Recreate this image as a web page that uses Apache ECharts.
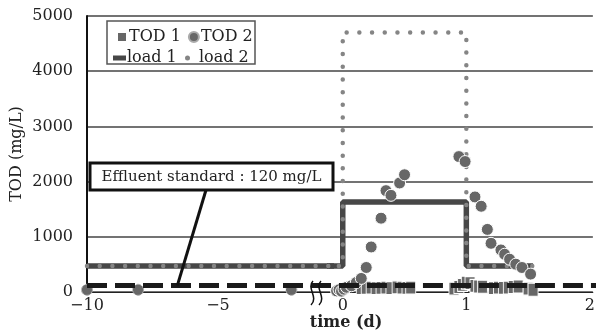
<!DOCTYPE html>
<html>
<head>
<meta charset="utf-8">
<script src="https://cdn.jsdelivr.net/npm/echarts@6/dist/echarts.min.js"></script>
<style>
  html, body { margin: 0; padding: 0; background: #fff; }
  #chart { width: 598px; height: 331px; }
</style>
</head>
<body>
<div id="chart"></div>
<script>
// Time axis is broken: a compressed pre-period (-10 .. 0 d) and a detailed run (0 .. 2 d)
const yTicks = [0, 1000, 2000, 3000, 4000, 5000];
const preTicks = [-10, -5];
const runTicks = [0, 1, 2];

// Loading profiles (step functions)
const loadT = [-10, 0, 0, 1, 1, 1.54];
const load1 = [470, 470, 1630, 1630, 470, 470];
const load2 = [470, 470, 4700, 4700, 470, 470];

// Effluent standard
const stdT = [-10, 2.1];
const stdV = [120, 120];

// TOD 1 measurements
const tod1T = [0.15, 0.19, 0.23, 0.27, 0.31, 0.35, 0.39, 0.44, 0.48, 0.52, 0.55,
               0.90, 0.94, 0.97, 1.00, 1.03, 1.07, 1.10, 1.13,
               1.22, 1.26, 1.30, 1.34, 1.38, 1.42, 1.50, 1.54];
const tod1V = [70, 75, 80, 70, 75, 80, 70, 85, 80, 75, 80,
               60, 90, 130, 170, 160, 110, 100, 95,
               70, 80, 75, 80, 90, 100, 60, 40];

// TOD 2 measurements, pre-period
const tod2PreT = [-10, -8.05, -2.2];
const tod2PreV = [40, 40, 40];
// TOD 2 measurements, run
const tod2T = [-0.05, -0.03, -0.01, 0.01, 0.03, 0.07, 0.11, 0.15, 0.19, 0.23, 0.31, 0.35, 0.39, 0.46, 0.50,
               0.94, 0.99, 1.07, 1.12, 1.17, 1.20, 1.28, 1.31, 1.35, 1.40, 1.45, 1.52];
const tod2V = [20, 40, 15, 50, 85, 113, 174, 246, 444, 816, 1337, 1836, 1751, 1975, 2124,
               2453, 2363, 1722, 1553, 1134, 882, 762, 684, 594, 504, 444, 324];

const pairs = (xs, ys) => xs.map((x, i) => [x, ys[i]]);

const FONT = 'DejaVu Serif';
const INK = '#222';
const MARK = '#676767';

const chart = echarts.init(document.getElementById('chart'), null, { renderer: 'canvas' });

const yAxisBase = {
  type: 'value', min: yTicks[0], max: yTicks[yTicks.length - 1], interval: 1000,
  axisTick: { show: false },
  splitLine: { show: true, lineStyle: { color: '#444', width: 1.5 } }
};

function loadSeries(axisIdx) {
  return [
    {
      name: 'load 1', type: 'line', xAxisIndex: axisIdx, yAxisIndex: axisIdx,
      data: pairs(loadT, load1), symbol: 'none', z: 2,
      lineStyle: { color: '#474747', width: 5.5 }, itemStyle: { color: '#474747' }
    },
    {
      name: 'load 2', type: 'line', xAxisIndex: axisIdx, yAxisIndex: axisIdx,
      data: pairs(loadT, load2), symbol: 'none', z: 3,
      lineStyle: { color: '#858585', width: 4.5, type: [0, 12.7], cap: 'round' },
      itemStyle: { color: '#858585' }
    },
    {
      name: 'standard', type: 'line', xAxisIndex: axisIdx, yAxisIndex: axisIdx,
      data: pairs(stdT, stdV), symbol: 'none', z: 6,
      lineStyle: { color: '#1a1a1a', width: 5, type: [20, 8] }
    }
  ];
}

const option = {
  animation: false,
  backgroundColor: '#fff',
  textStyle: { fontFamily: FONT },
  grid: [
    { left: 87, top: 16, width: 243, height: 276 },
    { left: 330, top: 16, width: 268, height: 276 }
  ],
  xAxis: [
    {
      type: 'value', gridIndex: 0, min: -10, max: -10 + 243 / 26.2,
      axisLine: { show: true, onZero: false, lineStyle: { color: INK, width: 1 } },
      axisTick: { show: false },
      splitLine: { show: false },
      axisLabel: {
        customValues: preTicks, color: INK, fontSize: 16, fontFamily: FONT, margin: 6,
        formatter: v => String(v).replace('-', '\u2212')
      }
    },
    {
      type: 'value', gridIndex: 1, min: -13 / 126, max: -13 / 126 + 268 / 126,
      axisLine: { show: true, onZero: false, lineStyle: { color: INK, width: 1 } },
      axisTick: { show: false },
      splitLine: { show: false },
      axisLabel: {
        customValues: runTicks, color: INK, fontSize: 16, fontFamily: FONT, margin: 6,
        showMinLabel: true, showMaxLabel: true
      }
    }
  ],
  yAxis: [
    Object.assign({}, yAxisBase, {
      gridIndex: 0,
      name: 'TOD (mg/L)', nameLocation: 'middle', nameGap: 62,
      nameTextStyle: { color: INK, fontSize: 16, fontFamily: FONT },
      axisLine: { show: true, lineStyle: { color: '#111', width: 2 } },
      axisLabel: { color: INK, fontSize: 16, fontFamily: FONT, margin: 14, formatter: v => String(v) }
    }),
    Object.assign({}, yAxisBase, {
      gridIndex: 1,
      axisLine: { show: false },
      axisLabel: { show: false }
    })
  ],
  legend: [
    {
      left: 111, top: 24, itemWidth: 10, itemHeight: 10, itemGap: 7,
      textStyle: { color: INK, fontSize: 16, fontFamily: FONT, padding: [0, 0, 0, -3] },
      data: [{ name: 'TOD 1', icon: 'rect' }, { name: 'TOD 2', icon: 'circle' }]
    },
    {
      left: 108, top: 45, itemWidth: 13, itemHeight: 5,
      textStyle: { color: INK, fontSize: 16, fontFamily: FONT, padding: [0, 0, 0, -4] },
      data: [{ name: 'load 1', icon: 'rect', itemStyle: { color: '#474747' } }]
    },
    {
      left: 180, top: 45, itemWidth: 5, itemHeight: 5,
      textStyle: { color: INK, fontSize: 16, fontFamily: FONT, padding: [0, 0, 0, 4] },
      data: [{ name: 'load 2', icon: 'circle', itemStyle: { color: '#858585' } }]
    }
  ],
  series: [
    ...loadSeries(0),
    ...loadSeries(1),
    {
      name: 'TOD 1', type: 'scatter', xAxisIndex: 1, yAxisIndex: 1,
      data: pairs(tod1T, tod1V), symbol: 'rect', symbolSize: [10, 13], z: 4,
      itemStyle: { color: MARK, borderColor: '#fff', borderWidth: 1, opacity: 1 }
    },
    {
      name: 'TOD 2', type: 'scatter', xAxisIndex: 0, yAxisIndex: 0,
      data: pairs(tod2PreT, tod2PreV), symbol: 'circle', symbolSize: 11, z: 5,
      itemStyle: { color: MARK, borderColor: '#aaa', borderWidth: 1, borderType: 'dashed', opacity: 1 }
    },
    {
      name: 'TOD 2', type: 'scatter', xAxisIndex: 1, yAxisIndex: 1,
      data: pairs(tod2T, tod2V), symbol: 'circle', symbolSize: 12, z: 5,
      itemStyle: { color: MARK, borderColor: '#fff', borderWidth: 1, opacity: 1 }
    }
  ]
};

chart.setOption(option);

// Annotations: legend frame, effluent-standard callout, axis break, x-axis title
const tip = chart.convertToPixel({ gridIndex: 0 }, [-6.55, stdV[0]]);
const breakWave = dx => ({
  type: 'bezierCurve', z: 10, silent: true,
  shape: { x1: 313 + dx, y1: 281, cpx1: 306 + dx, cpy1: 288, cpx2: 319 + dx, cpy2: 297, x2: 311 + dx, y2: 305 },
  style: { fill: null, stroke: '#111', lineWidth: 1.5 }
});
chart.setOption({
  graphic: [
    {
      type: 'rect', z: 3, silent: true,
      shape: { x: 107, y: 21, width: 148, height: 43 },
      style: { fill: '#fff', stroke: '#555', lineWidth: 1.5 }
    },
    {
      type: 'line', z: 10, silent: true,
      shape: { x1: 206, y1: 190, x2: tip[0], y2: tip[1] },
      style: { stroke: '#111', lineWidth: 3 }
    },
    {
      type: 'rect', z: 10, silent: true,
      shape: { x: 90, y: 163, width: 243, height: 27 },
      style: { fill: '#fff', stroke: '#111', lineWidth: 3 }
    },
    {
      type: 'text', z: 11, silent: true,
      x: 211.5, y: 177,
      style: {
        text: 'Effluent standard : 120 mg/L', fill: INK,
        font: '15px "DejaVu Serif"', align: 'center', verticalAlign: 'middle'
      }
    },
    breakWave(0),
    breakWave(8),
    {
      type: 'text', z: 10, silent: true,
      x: 346, y: 323,
      style: {
        text: 'time (d)', fill: INK,
        font: 'bold 16px "DejaVu Serif"', align: 'center', verticalAlign: 'middle'
      }
    }
  ]
});
</script>
</body>
</html>
